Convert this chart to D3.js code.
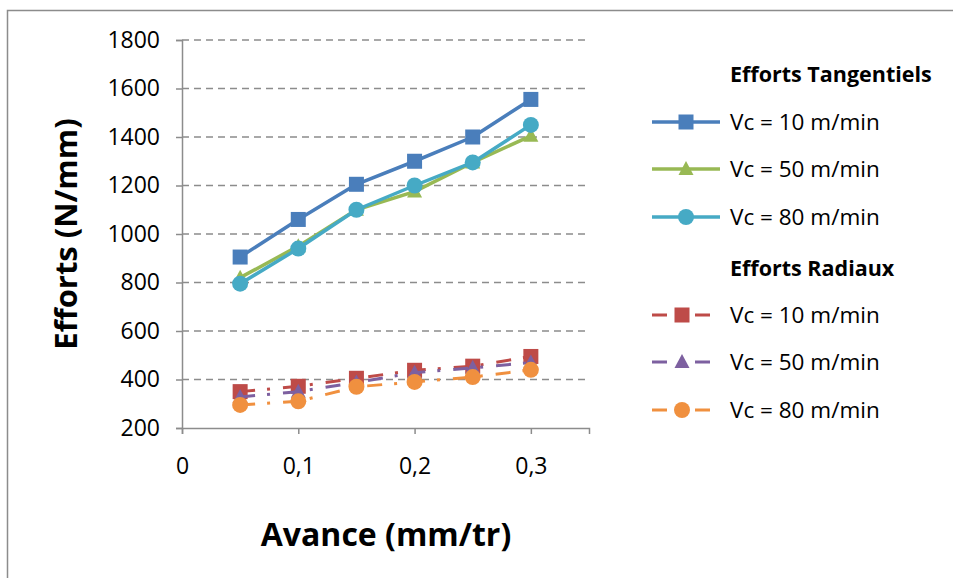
<!DOCTYPE html>
<html>
<head>
<meta charset="utf-8">
<script src="https://cdn.jsdelivr.net/npm/d3@7"></script>
<style>
  body { margin: 0; background: #fff; }
  svg text { font-family: "Open Sans", Lato, sans-serif; fill: #000; }
</style>
</head>
<body>
<svg id="chart" width="953" height="578"></svg>
<script>
// ---- data ----
const avance = [0.05, 0.1, 0.15, 0.2, 0.25, 0.3];
const tang10 = [905, 1060, 1205, 1300, 1400, 1555];
const tang50 = [820, 950, 1100, 1175, 1295, 1405];
const tang80 = [795, 940, 1100, 1200, 1295, 1450];
const rad10 = [350, 372, 405, 438, 455, 495];
const rad50 = [328, 350, 388, 428, 448, 470];
const rad80 = [295, 310, 370, 390, 410, 440];
const yTicks = [200, 400, 600, 800, 1000, 1200, 1400, 1600, 1800];
const xTicks = [0, 0.1, 0.2, 0.3];
const seriesNames = ["Vc = 10 m/min", "Vc = 50 m/min", "Vc = 80 m/min"];
const groupTitles = ["Efforts Tangentiels", "Efforts Radiaux"];

const tangColors = ["#4A7EBB", "#98B954", "#46AAC5"];
const radColors = ["#BE4B48", "#7D60A0", "#F0903F"];
const shapes = ["square", "triangle", "circle"];

const svg = d3.select("#chart");

// outer border
svg.append("rect").attr("x", 7.5).attr("y", 10.5).attr("width", 1000).attr("height", 1000)
  .attr("fill", "none").attr("stroke", "#8c8c8c").attr("stroke-width", 1.5);

const x = d3.scaleLinear().domain([0, 0.35]).range([182, 589]);
const y = d3.scaleLinear().domain([200, 1800]).range([428, 40]);

// gridlines
svg.append("g").selectAll("line").data(yTicks.filter(d => d > 200)).join("line")
  .attr("x1", x(0)).attr("x2", x(0.35))
  .attr("y1", d => y(d)).attr("y2", d => y(d))
  .attr("stroke", "#8c8c8c").attr("stroke-width", 1.5).attr("stroke-dasharray", "7,5");

// y axis
const yAxis = d3.axisLeft(y).tickValues(yTicks).tickSize(6).tickPadding(16).tickFormat(d3.format("d"));
const gy = svg.append("g").attr("transform", `translate(${x(0)},0)`).call(yAxis);
gy.select(".domain").attr("stroke", "#8c8c8c").attr("stroke-width", 1.5);
gy.selectAll(".tick line").attr("stroke", "#8c8c8c").attr("stroke-width", 1.5);
gy.selectAll(".tick text").style("font-size", "23px").style("font-family", "'Open Sans', sans-serif").attr("fill", "#000");

// x axis
const xAxis = d3.axisBottom(x).tickValues(xTicks).tickSize(6).tickPadding(24)
  .tickFormat(d => d === 0 ? "0" : d3.format(".1f")(d).replace(".", ","));
const gx = svg.append("g").attr("transform", `translate(0,${y(200)})`).call(xAxis);
gx.select(".domain").attr("stroke", "#8c8c8c").attr("stroke-width", 1.5);
gx.selectAll(".tick line").attr("stroke", "#8c8c8c").attr("stroke-width", 1.5);
gx.selectAll(".tick text").style("font-size", "23px").style("font-family", "'Open Sans', sans-serif").attr("fill", "#000");

// axis titles
svg.append("text").attr("transform", "translate(77,234) rotate(-90)")
  .attr("text-anchor", "middle").style("font-size", "31px").style("font-weight", "bold")
  .text("Efforts (N/mm)");
svg.append("text").attr("x", 386).attr("y", 546)
  .attr("text-anchor", "middle").style("font-size", "32px").style("font-weight", "bold")
  .text("Avance (mm/tr)");

function marker(g, shape, cx, cy, color) {
  if (shape === "square") {
    g.append("rect").attr("x", cx - 7.5).attr("y", cy - 7.5).attr("width", 15).attr("height", 15).attr("fill", color);
  } else if (shape === "triangle") {
    g.append("path").attr("d", `M${cx},${cy - 8}L${cx + 7.5},${cy + 6}L${cx - 7.5},${cy + 6}Z`).attr("fill", color);
  } else {
    g.append("circle").attr("cx", cx).attr("cy", cy).attr("r", 8).attr("fill", color);
  }
}

const line = d3.line().x(d => x(d[0])).y(d => y(d[1]));
const radDash = "15,12,3,13";

const tang = [tang10, tang50, tang80];
const rad = [rad10, rad50, rad80];

// radial series (drawn first, beneath)
rad.forEach((vals, i) => {
  const g = svg.append("g");
  const pts = avance.map((a, k) => [a, vals[k]]);
  g.append("path").attr("d", line(pts)).attr("fill", "none")
    .attr("stroke", radColors[i]).attr("stroke-width", 3).attr("stroke-dasharray", radDash);
  pts.forEach(p => marker(g, shapes[i], x(p[0]), y(p[1]), radColors[i]));
});

// tangential series
tang.forEach((vals, i) => {
  const g = svg.append("g");
  const pts = avance.map((a, k) => [a, vals[k]]);
  g.append("path").attr("d", line(pts)).attr("fill", "none")
    .attr("stroke", tangColors[i]).attr("stroke-width", 3.5).attr("stroke-linejoin", "round");
  pts.forEach(p => marker(g, shapes[i], x(p[0]), y(p[1]), tangColors[i]));
});

// legend
const leg = svg.append("g");
const lx1 = 652, lx2 = 720, tx = 730;
leg.append("text").attr("x", tx).attr("y", 82).style("font-size", "21.5px").style("font-weight", "bold").text(groupTitles[0]);
[122, 169, 217].forEach((yy, i) => {
  leg.append("line").attr("x1", lx1).attr("x2", lx2).attr("y1", yy).attr("y2", yy)
    .attr("stroke", tangColors[i]).attr("stroke-width", 3.5);
  marker(leg, shapes[i], (lx1 + lx2) / 2, yy, tangColors[i]);
  leg.append("text").attr("x", tx).attr("y", yy + 8).style("font-size", "22.5px").text(seriesNames[i]);
});
leg.append("text").attr("x", tx).attr("y", 276).style("font-size", "21.5px").style("font-weight", "bold").text(groupTitles[1]);
[315, 362, 410].forEach((yy, i) => {
  leg.append("line").attr("x1", lx1).attr("x2", 711).attr("y1", yy).attr("y2", yy)
    .attr("stroke", radColors[i]).attr("stroke-width", 3).attr("stroke-dasharray", radDash);
  marker(leg, shapes[i], 682, yy, radColors[i]);
  leg.append("text").attr("x", tx).attr("y", yy + 8).style("font-size", "22.5px").text(seriesNames[i]);
});
</script>
</body>
</html>
